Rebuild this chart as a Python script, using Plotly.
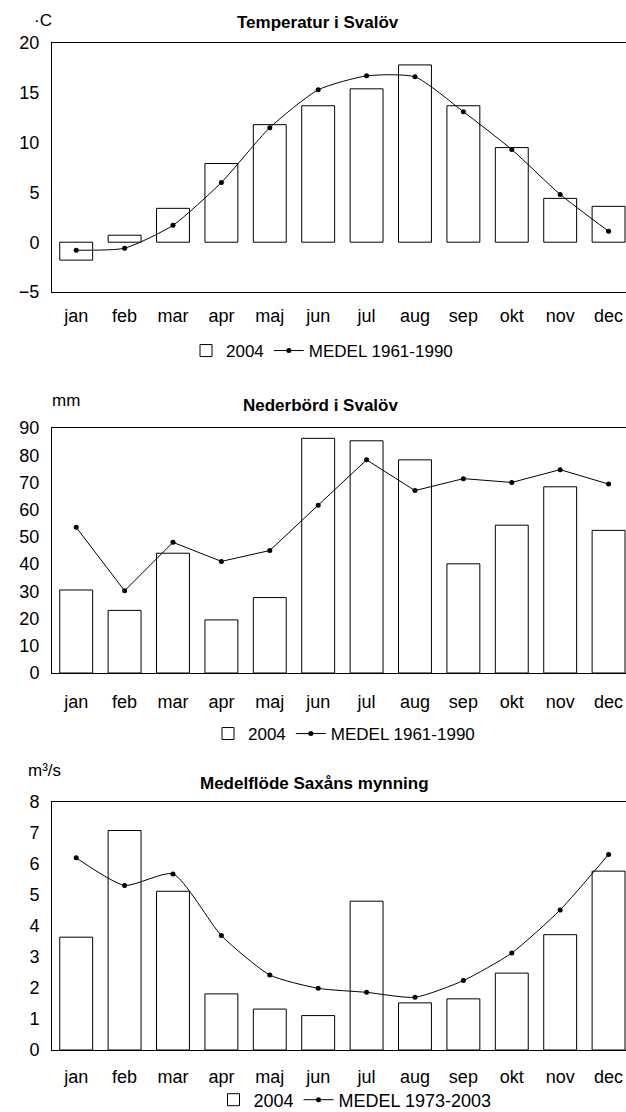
import plotly.graph_objects as go

months = ["jan", "feb", "mar", "apr", "maj", "jun", "jul", "aug", "sep", "okt", "nov", "dec"]

temp_2004 = [-1.8, 0.7, 3.4, 7.9, 11.8, 13.7, 15.4, 17.8, 13.7, 9.5, 4.4, 3.6]
temp_medel = [-0.8, -0.6, 1.7, 6.0, 11.5, 15.3, 16.7, 16.6, 13.1, 9.3, 4.8, 1.1]

rain_2004 = [30.5, 23.0, 44.0, 19.5, 27.7, 86.2, 85.3, 78.3, 40.1, 54.3, 68.4, 52.4]
rain_medel = [53.5, 30.2, 48.0, 41.0, 45.0, 61.6, 78.3, 67.0, 71.4, 70.0, 74.7, 69.4]

flow_2004 = [3.64, 7.08, 5.12, 1.81, 1.32, 1.11, 4.80, 1.52, 1.65, 2.48, 3.72, 5.77]
flow_medel = [6.20, 5.31, 5.68, 3.69, 2.42, 1.99, 1.86, 1.70, 2.24, 3.13, 4.52, 6.31]

FONT = "Liberation Sans, Arial, sans-serif"
H = 1112.0
LEFT = 52
PW = 626 - LEFT


def py(px):
    return 1 - px / H


def pxx(px):
    return (px - LEFT) / PW


fig = go.Figure()

charts = [
    ("", temp_2004, temp_medel, "MEDEL 1961-1990", "spline", "legend"),
    ("2", rain_2004, rain_medel, "MEDEL 1961-1990", "linear", "legend2"),
    ("3", flow_2004, flow_medel, "MEDEL 1973-2003", "spline", "legend3"),
]

for sfx, bars, medel, medel_name, shape, leg in charts:
    fig.add_trace(go.Bar(
        x=months, y=bars, name="2004",
        marker=dict(color="white", line=dict(color="black", width=1)),
        xaxis="x" + sfx, yaxis="y" + sfx, legend=leg,
    ))
    fig.add_trace(go.Scatter(
        x=months, y=medel, name=medel_name, mode="lines+markers",
        line=dict(color="black", width=1, shape=shape, smoothing=0.6),
        marker=dict(color="black", size=5),
        xaxis="x" + sfx, yaxis="y" + sfx, legend=leg,
    ))

xcommon = dict(
    type="category", range=[-0.5, 11.36], showline=True, linecolor="black",
    mirror=True, showgrid=False, ticks="", automargin=False,
    tickfont=dict(size=18, family=FONT, color="black"), domain=[0, 1],
)
ycommon = dict(
    showline=True, linecolor="black", mirror=True, showgrid=False, zeroline=False,
    ticks="", automargin=False, ticklabelstandoff=8,
    tickfont=dict(size=18, family=FONT, color="black"),
)

legcommon = dict(orientation="h", xanchor="center", yanchor="middle", itemwidth=30,
                 bgcolor="rgba(0,0,0,0)")

fig.update_layout(
    width=626, height=1112,
    margin=dict(l=LEFT, r=0, t=0, b=0, autoexpand=False),
    paper_bgcolor="white", plot_bgcolor="white",
    font=dict(family=FONT, color="black", size=18),
    barmode="group", bargap=0.32,
    xaxis=dict(xcommon, anchor="y", ticklabelstandoff=7),
    xaxis2=dict(xcommon, anchor="y2", ticklabelstandoff=12),
    xaxis3=dict(xcommon, anchor="y3", ticklabelstandoff=10),
    yaxis=dict(ycommon, range=[-5, 20], dtick=5, domain=[py(292), py(43)], anchor="x"),
    yaxis2=dict(ycommon, range=[0, 90], dtick=10, domain=[py(673), py(428)], anchor="x2"),
    yaxis3=dict(ycommon, range=[0, 8], dtick=1, domain=[py(1050), py(802)], anchor="x3"),
    legend=dict(legcommon, x=pxx(322), y=py(351), font=dict(size=17, family=FONT)),
    legend2=dict(legcommon, x=pxx(344), y=py(734), font=dict(size=17, family=FONT)),
    legend3=dict(legcommon, x=pxx(355), y=py(1100), font=dict(size=18, family=FONT)),
)

titles = [
    ("Temperatur i Svalöv", 318, 23),
    ("Nederbörd i Svalöv", 320, 405),
    ("Medelflöde Saxåns mynning", 314, 783),
]
for text, xpx, ypx in titles:
    fig.add_annotation(text="<b>" + text + "</b>", xref="paper", yref="paper",
                       x=pxx(xpx), y=py(ypx), xanchor="center", yanchor="middle",
                       showarrow=False, font=dict(size=17, family=FONT))

units = [("·C", 32, 21), ("mm", 50, 400), ("m³/s", 26, 770)]
for text, xpx, ypx in units:
    fig.add_annotation(text=text, xref="paper", yref="paper",
                       x=pxx(xpx), y=py(ypx), xanchor="left", yanchor="middle",
                       showarrow=False, font=dict(size=17, family=FONT))

# the page's default body margin would push the chart 8px right and down
fig.write_html("out.html", config={"displayModeBar": False},
               post_script="document.body.style.margin='0';document.body.style.overflow='hidden';")
